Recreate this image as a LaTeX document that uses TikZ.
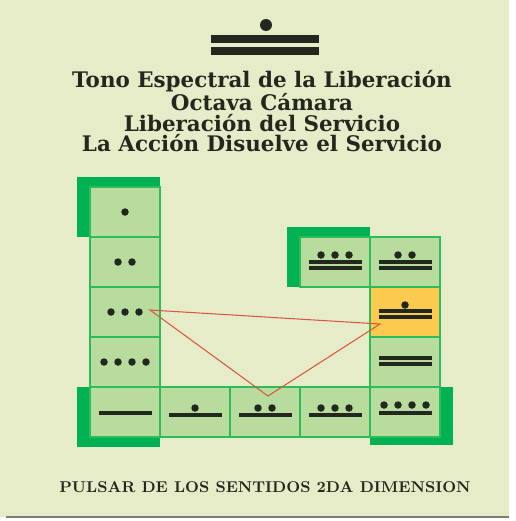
\documentclass[tikz,border=0pt]{standalone}
\usepackage{fontspec}
\newfontfamily\cardfont{DejaVu Serif}
\usepackage{tikz}
\usetikzlibrary{calc,positioning}
\definecolor{cardbg}{RGB}{231,236,200}
\definecolor{cellfill}{RGB}{184,219,158}
\definecolor{cellline}{RGB}{45,188,90}
\definecolor{blockgreen}{RGB}{0,178,82}
\definecolor{hiyellow}{RGB}{251,202,78}
\definecolor{ink}{RGB}{34,40,30}
\definecolor{linkred}{RGB}{214,88,64}
\tikzset{
  cell/.style={rectangle,draw=cellline,fill=cellfill,line width=0.8pt,
    minimum width=1.4cm,minimum height=1cm,inner sep=0pt,outer sep=0pt},
  hilite/.style={cell,fill=hiyellow},
  corner/.style={fill=blockgreen},
  link/.style={draw=linkred,line width=0.6pt},
  ttl/.style={align=center,text=ink,font=\cardfont\fontsize{12.2}{11.8}\selectfont\bfseries},
  foot/.style={text=ink,font=\fontsize{8.9}{10}\selectfont\bfseries}
}
% dots: node, count, vertical offset
\newcommand{\mayadots}[3]{\foreach \k in {1,...,#2}{\fill[ink] ($(#1)+({(\k-(#2+1)/2)*14},#3)$) circle (0.075cm);}}
% bar: node, vertical offset
\newcommand{\mayabar}[2]{\fill[ink] ($(#1)+(-26.5,#2-2.4)$) rectangle ($(#1)+(26.5,#2+2.4)$);}
\begin{document}
\begin{tikzpicture}[x=0.02cm,y=-0.02cm]

    % === card ===
    \fill[white] (0,0) rectangle (515,521);
    \fill[cardbg] (0,0) rectangle (509,517);
    \draw[ink!60, line width=0.8pt] (6,517) -- (509,517);
    \useasboundingbox (0,0) rectangle (515,521);

    % === top glyph ===
    \fill[ink] (266,25) circle (0.12cm);
    \fill[ink] (211,35) rectangle (319,43);
    \fill[ink] (211,47) rectangle (319,55);

    % titles
    \node[ttl] (title) at (262,111) {Tono Espectral de la Liberación\\Octava Cámara\\Liberación del Servicio\\La Acción Disuelve el Servicio};

    % === cells ===
    \node[cell] (n1) at (125,212) {};
    \node[cell] (n2) at (125,262) {};
    \node[cell] (n3) at (125,312) {};
    \node[cell] (n4) at (125,362) {};
    \node[cell] (n5) at (125,412) {};
    \node[cell] (n6) at (195,412) {};
    \node[cell] (n7) at (265,412) {};
    \node[cell] (n8) at (335,412) {};
    \node[cell] (n9) at (405,412) {};
    \node[cell] (n10) at (405,362) {};
    \node[hilite] (n11) at (405,312) {};
    \node[cell] (n12) at (405,262) {};
    \node[cell] (n13) at (335,262) {};

    % green corner blocks behind the end cells
    \fill[corner] ($(n1.north west)+(-13,-10)$) rectangle (n1.south east);
    \fill[corner] ($(n5.north west)+(-13,0)$) rectangle ($(n5.south east)+(0,10)$);
    \fill[corner] (n9.north west) rectangle ($(n9.south east)+(13,8)$);
    \fill[corner] ($(n13.north west)+(-13,-10)$) rectangle (n13.south east);
    \node[cell] at (n1) {};
    \node[cell] at (n5) {};
    \node[cell] at (n9) {};
    \node[cell] at (n13) {};

    % === numerals ===
    \mayadots{n1}{1}{0}
    \mayadots{n2}{2}{0}
    \mayadots{n3}{3}{0}
    \mayadots{n4}{4}{0}
    \mayabar{n5}{1}
    \mayadots{n6}{1}{-4} \mayabar{n6}{3}
    \mayadots{n7}{2}{-4} \mayabar{n7}{3}
    \mayadots{n8}{3}{-4} \mayabar{n8}{3}
    \mayadots{n9}{4}{-7} \mayabar{n9}{1}
    \mayabar{n10}{-4} \mayabar{n10}{2}
    \mayadots{n11}{1}{-7} \mayabar{n11}{-1} \mayabar{n11}{5}
    \mayadots{n12}{2}{-7} \mayabar{n12}{0} \mayabar{n12}{6}
    \mayadots{n13}{3}{-7} \mayabar{n13}{0} \mayabar{n13}{6}

    % === red triangle ===
    \coordinate (p3) at ($(n3)+(25,-2)$);
    \coordinate (p7) at ($(n7)+(3,-16)$);
    \coordinate (p11) at ($(n11)+(-25,12)$);
    \draw[link] (p3) -- (p11) -- (p7) -- cycle;

    % footer
    \node[foot] (footer) at (265,487) {PULSAR DE LOS SENTIDOS 2DA DIMENSION};

\end{tikzpicture}
\end{document}
